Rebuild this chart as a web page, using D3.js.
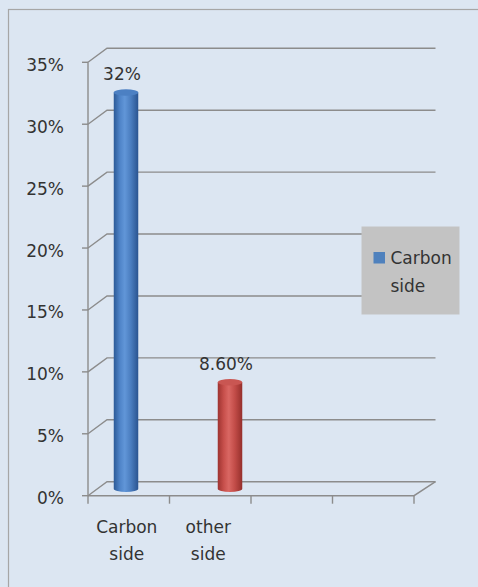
<!DOCTYPE html>
<html>
<head>
<meta charset="utf-8">
<script src="https://cdn.jsdelivr.net/npm/d3@7"></script>
<style>
  html, body { margin: 0; padding: 0; background: #dce6f2; }
  svg { display: block; }
  text { font-family: "DejaVu Sans", Verdana, sans-serif; fill: #333333; }
</style>
</head>
<body>
<script>
// Chart data
const categories = ["Carbon side", "other side", "", ""];
const values = [0.32, 0.086];
const valueLabels = ["32%", "8.60%"];
const yTicks = [0, 0.05, 0.10, 0.15, 0.20, 0.25, 0.30, 0.35];
const seriesName = "Carbon side";
const barColors = ["blue", "red"];

const W = 478, H = 587;
const FS = 17;
const svg = d3.select("body").append("svg").attr("width", W).attr("height", H);

// background and chart frame (frame runs past the right and bottom edges)
svg.append("rect").attr("width", W).attr("height", H).attr("fill", "#dce6f2");
svg.append("rect").attr("x", 8.5).attr("y", 9.5).attr("width", W + 20).attr("height", H + 20)
  .attr("fill", "none").attr("stroke", "#a6a6a6").attr("stroke-width", 1.2);

// 3-D depth offset of the back wall
const DX = 19, DY = -14;

// category slots are keyed by index (two slots have no label)
const idx = d3.range(categories.length);

// front-plane scales
const y = d3.scaleLinear().domain([0, 0.35]).range([495.7, 62.3]);
const x = d3.scaleBand().domain(idx).range([88, 414]);
// bar placement at mid depth (perspective spreads the cylinders)
const xBar = d3.scaleBand().domain(idx).range([74, 490]);
const backRight = 435.5;

const grid = svg.append("g").attr("stroke", "#8c8c8c").attr("stroke-width", 1.4).attr("fill", "none");

// gridlines on back wall + side wall diagonals
yTicks.forEach(t => {
  const yf = y(t);
  grid.append("path").attr("d", d3.line()([[x.range()[0], yf], [x.range()[0] + DX, yf + DY], [backRight, yf + DY]]));
});
// floor front edge and right diagonal
grid.append("path").attr("d", d3.line()([[x.range()[0], y(0)], [x.range()[1], y(0)], [backRight, y(0) + DY]]));

// vertical axis line and ticks
const axisG = svg.append("g").attr("stroke", "#8c8c8c").attr("stroke-width", 1.4);
axisG.append("line").attr("x1", 88).attr("x2", 88).attr("y1", y(0.35)).attr("y2", y(0));
yTicks.forEach(t => {
  axisG.append("line").attr("x1", 82).attr("x2", 88).attr("y1", y(t)).attr("y2", y(t));
});
// category ticks
const catEdges = idx.map(i => x(i)).concat([x.range()[1]]);
catEdges.forEach(cx => {
  axisG.append("line").attr("x1", cx).attr("x2", cx).attr("y1", y(0)).attr("y2", y(0) + 8);
});

// y tick labels
const fmt = d3.format(".0%");
svg.append("g").selectAll("text").data(yTicks).join("text")
  .attr("x", 64).attr("y", d => y(d) + 8.5)
  .attr("text-anchor", "end").attr("font-size", FS)
  .text(d => fmt(d));

// category labels, wrapped on spaces
idx.forEach(i => {
  const c = categories[i];
  if (!c) return;
  const cx = x(i) + x.bandwidth() / 2 - 2;
  const t = svg.append("text").attr("text-anchor", "middle").attr("font-size", FS);
  c.split(" ").forEach((w, k) => {
    t.append("tspan").attr("x", cx).attr("y", 533 + k * 27).text(w);
  });
});

// gradients for cylinders
const defs = svg.append("defs");
const palettes = {
  blue: { stops: ["#2c5a97", "#4f84c8", "#6196d8", "#4a7dbf", "#2a5490"], top: "#4c80c3" },
  red:  { stops: ["#9e3330", "#c8504c", "#d96763", "#c24c48", "#952f2c"], top: "#c95652" }
};
Object.entries(palettes).forEach(([k, p]) => {
  const g = defs.append("linearGradient").attr("id", "grad-" + k).attr("x1", 0).attr("x2", 1).attr("y1", 0).attr("y2", 0);
  [0, 0.25, 0.45, 0.7, 1].forEach((o, i) => g.append("stop").attr("offset", o).attr("stop-color", p.stops[i]));
});

// cylinders
const barW = 24.5, ry = 3.2;
const bars = svg.append("g");
values.forEach((v, i) => {
  const cx = xBar(i) + xBar.bandwidth() / 2;
  const yTop = y(v) + DY / 2;
  const yBot = y(0) + DY / 2;
  const pal = palettes[barColors[i]];
  const x0 = cx - barW / 2, x1 = cx + barW / 2;
  const body = `M${x0},${yTop} L${x0},${yBot} A${barW / 2},${ry} 0 0 0 ${x1},${yBot} L${x1},${yTop} Z`;
  bars.append("path").attr("d", body).attr("fill", `url(#grad-${barColors[i]})`);
  bars.append("ellipse").attr("cx", cx).attr("cy", yTop).attr("rx", barW / 2).attr("ry", ry)
    .attr("fill", pal.top);
  svg.append("text").attr("x", cx - 4).attr("y", yTop - 12.5)
    .attr("text-anchor", "middle").attr("font-size", FS).text(valueLabels[i]);
});

// legend
const lg = svg.append("g");
lg.append("rect").attr("x", 361.5).attr("y", 226.5).attr("width", 98).attr("height", 88).attr("fill", "#c3c3c3");
lg.append("rect").attr("x", 373.5).attr("y", 252).attr("width", 11.5).attr("height", 11.5).attr("fill", "#4f81bd");
const lt = lg.append("text").attr("font-size", FS);
seriesName.split(" ").forEach((w, i) => {
  lt.append("tspan").attr("x", 390.5).attr("y", 264 + i * 27.5).text(w);
});
</script>
</body>
</html>
